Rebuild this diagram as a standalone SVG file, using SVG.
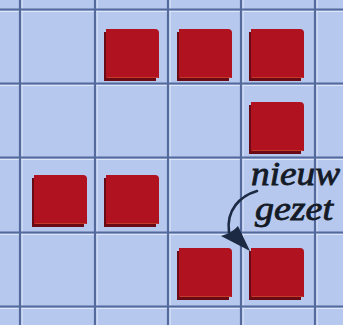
<svg xmlns="http://www.w3.org/2000/svg" width="343" height="325" viewBox="0 0 343 325">
<defs>
<style>
.bg{fill:#b6c8ee}
.gl{stroke:#54699c;stroke-width:2.2;fill:none}
.gh{stroke:#dde7fa;stroke-width:1.2;fill:none}
.sh{fill:#6a0a14}
.sq{fill:#b0121f}
.lbl{font-family:"Liberation Serif","DejaVu Serif",serif;font-style:italic;font-size:33px;fill:#141a26;stroke:#141a26;stroke-width:0.8}
.arr{stroke:#1d2a44;stroke-width:2.6;fill:none;stroke-linecap:round}
</style>
<g id="tile">
<path class="sh" d="M-2,3 H50 V52 H-2 Z"/>
<path class="sq" d="M0,0 H49 Q53,0 53,4 V49 H0 Z"/>
<path d="M1,48.5 H52" stroke="#d86a3a" stroke-width="0.8" opacity="0.6"/>
</g>
</defs>
<rect class="bg" x="0" y="0" width="343" height="325"/>
<g id="grid">
<path class="gh" d="M0,11.5 H343 M0,85.5 H343 M0,159.5 H343 M0,234.5 H343 M0,308.5 H343"/>
<path class="gh" d="M22,0 V325 M97,0 V325 M170,0 V325 M243,0 V325 M317,0 V325"/>
<path class="gl" d="M0,9.5 H343 M0,83.5 H343 M0,157.5 H343 M0,232.5 H343 M0,306.5 H343"/>
<path class="gl" d="M20,0 V325 M95,0 V325 M168,0 V325 M241,0 V325 M315,0 V325"/>
</g>
<g id="s1"><use href="#tile" x="106" y="29"/></g>
<g id="s2"><use href="#tile" x="179" y="29"/></g>
<g id="s3"><use href="#tile" x="251" y="29"/></g>
<g id="s4"><use href="#tile" x="251" y="102"/></g>
<g id="s5"><use href="#tile" x="34" y="175"/></g>
<g id="s6"><use href="#tile" x="106" y="175"/></g>
<g id="s7"><use href="#tile" x="179" y="248"/></g>
<g id="s8"><use href="#tile" x="251" y="248"/></g>
<g id="label">
<text class="lbl" x="251" y="185" textLength="89" lengthAdjust="spacingAndGlyphs">nieuw</text>
<text class="lbl" x="255" y="220" textLength="78" lengthAdjust="spacingAndGlyphs">gezet</text>
</g>
<g id="connectors">
<path class="arr" d="M257,191 C240,196 226,210 229,232"/>
<path d="M221,236 L250,251 L238,226 Q232,233 221,236 Z" fill="#1d2a44"/>
</g>
</svg>
